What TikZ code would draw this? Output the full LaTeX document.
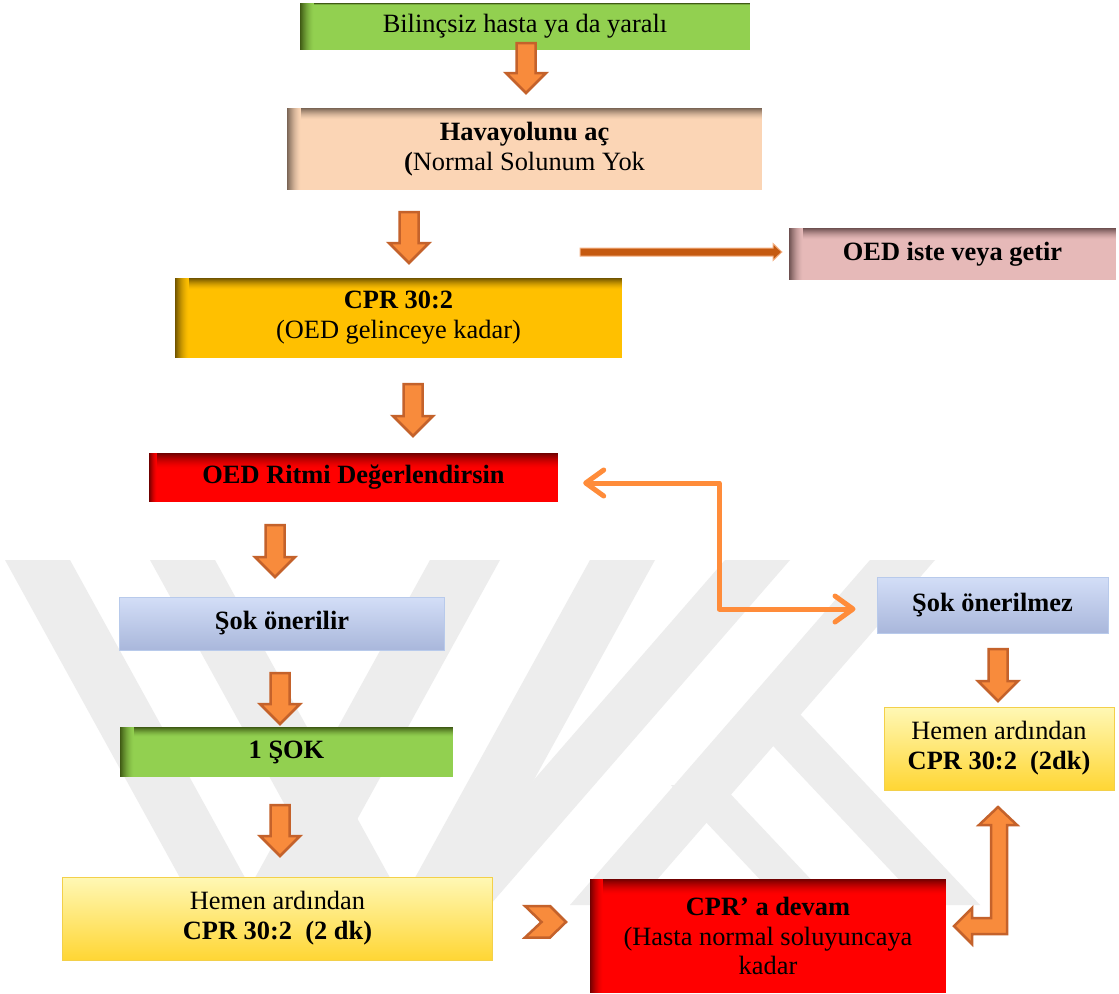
\documentclass[tikz,border=0pt]{standalone}
\usepackage{fontspec}
\setmainfont{Liberation Serif}
\usetikzlibrary{arrows.meta,calc}
\definecolor{grn}{HTML}{92D050}
\definecolor{grnD}{HTML}{3F5A14}
\definecolor{peach}{HTML}{FBD5B5}
\definecolor{peachD}{HTML}{7A6555}
\definecolor{pink}{HTML}{E6B9B8}
\definecolor{pinkD}{HTML}{6E5050}
\definecolor{gold}{HTML}{FFC000}
\definecolor{goldD}{HTML}{705400}
\definecolor{rd}{HTML}{FF0000}
\definecolor{rdD}{HTML}{700000}
\definecolor{blueT}{HTML}{D3DEF7}
\definecolor{blueM}{HTML}{A4BCEC}
\definecolor{blueB}{HTML}{A9B7DB}
\definecolor{blueL}{HTML}{B8CAEB}
\definecolor{yelT}{HTML}{FFF8B5}
\definecolor{yelM}{HTML}{FFF06E}
\definecolor{yelB}{HTML}{FFD634}
\definecolor{yelL}{HTML}{F3D04A}
\definecolor{orF}{HTML}{F88B3C}
\definecolor{orD}{HTML}{C4622B}
\definecolor{lineor}{HTML}{FF8C3A}
\definecolor{thinF}{HTML}{C55A11}
\definecolor{thinL}{HTML}{F4B183}
\definecolor{wm}{HTML}{EDEDED}
\tikzset{
  box/.style={draw=none, inner sep=0pt, align=center,
    font=\fontsize{26.5}{30}\selectfont},
  inset/.style n args={4}{fill=#2, path picture={
    \foreach \i in {0,...,#3}{
      \pgfmathtruncatemacro\p{100*(1-\i/(#3+1))^1.6}
      \fill[#1!\p!#2] ([yshift={-\i*1bp}]path picture bounding box.north west)
        rectangle ([yshift={-(\i+1.3)*1bp}]path picture bounding box.north east);}
    \foreach \i in {0,...,#4}{
      \pgfmathtruncatemacro\p{100*(1-\i/(#4+1))^1.6}
      \fill[#1!\p!#2] ([xshift={\i*1bp}]path picture bounding box.north west)
        rectangle ([xshift={(\i+1.3)*1bp}]path picture bounding box.south west);}
  }},
  bluebox/.style={top color=blueT, middle color=blueM, bottom color=blueB,
    draw=blueL, line width=1bp},
  yelbox/.style={top color=yelT, middle color=yelM, bottom color=yelB,
    draw=yelL, line width=1bp},
  blkarrow/.style={fill=orF, draw=orD, line width=2.5bp, line join=miter},
  conn/.style={draw=lineor, line width=5bp, line cap=round, line join=round,
    {Straight Barb[length=18bp,width=26bp,round]}-{Straight Barb[length=18bp,width=26bp,round]}},
}
\newcommand\blkdown[3]{%
  \filldraw[blkarrow] (#1-9.5,#2) -- (#1+9.5,#2) -- (#1+9.5,#3-20)
    -- (#1+20,#3-20) -- (#1,#3) -- (#1-20,#3-20) -- (#1-9.5,#3-20) -- cycle;}
\begin{document}
\begin{tikzpicture}[x=1bp,y=-1bp]
\useasboundingbox (0,0) rectangle (1119,994);
\fill[white] (0,0) rectangle (1119,994);
% watermark
\begin{scope}
  \clip (0,560) rectangle (1000,905);
  \foreach \a/\b in {5/70,150/215}{
    \fill[wm] (\a,560) -- (\b,560) -- (\b+190,905) -- (\a+190,905) -- cycle;}
  \foreach \a/\b in {430/500,590/655}{
    \fill[wm] (\a,560) -- (\b,560) -- (\b-190,905) -- (\a-190,905) -- cycle;}
  \foreach \a/\b in {725/790,870/935}{
    \fill[wm] (\a,560) -- (\b,560) -- (\b-300,905) -- (\a-300,905) -- cycle;}
  \fill[wm] (743,714) -- (800,714) -- (980,905) -- (923,905) -- cycle;
  \fill[wm] (671,785) -- (722,785) -- (835,905) -- (784,905) -- cycle;
\end{scope}
% boxes
\node[box, inset={grnD}{grn}{1}{13}, minimum width=450bp, minimum height=47bp]
  (b1) at (525,26.5) {Bilinçsiz hasta ya da yaralı};
\node[box, inset={peachD}{peach}{11}{13}, minimum width=475bp, minimum height=82bp]
  (b2) at (524.5,149) {\textbf{Havayolunu aç}\\\textbf{(}Normal Solunum Yok};
\node[box, inset={pinkD}{pink}{11}{13}, minimum width=327bp, minimum height=52bp]
  (b3) at (952.5,254) {\textbf{OED iste veya getir}};
\node[box, inset={goldD}{gold}{11}{13}, minimum width=447bp, minimum height=80bp]
  (b4) at (398.5,318) {\textbf{CPR 30:2}\\(OED gelinceye kadar)};
\node[box, inset={rdD}{rd}{15}{7}, minimum width=409bp, minimum height=49bp]
  (b5) at (353.5,477.5) {\textbf{OED Ritmi Değerlendirsin}};
\node[box, bluebox, minimum width=324bp, minimum height=53bp]
  (b6) at (282,623.5) {\textbf{Şok önerilir}};
\node[box, inset={grnD}{grn}{9}{13}, minimum width=333bp, minimum height=50bp]
  (b7) at (286.5,752) {\textbf{1 ŞOK}};
\node[box, bluebox, minimum width=231bp, minimum height=56bp]
  (b8) at (992.5,605) {\textbf{Şok önerilmez}};
\node[box, yelbox, minimum width=230bp, minimum height=83bp]
  (b9) at (999,748.5) {Hemen ardından\\\textbf{CPR 30:2~~(2dk)}};
\node[box, yelbox, minimum width=429bp, minimum height=83bp]
  (b10) at (277.5,918.5) {Hemen ardından\\\textbf{CPR 30:2~~(2 dk)}};
\node[box, inset={rdD}{rd}{15}{12}, minimum width=356bp, minimum height=114bp]
  (b11) at (768,936) {\textbf{CPR’ a devam}\\(Hasta normal soluyuncaya\\kadar};
% block arrows
\blkdown{526}{43}{93}
\blkdown{409}{212}{263}
\blkdown{413}{384}{436}
\blkdown{275}{525}{577}
\blkdown{280}{673}{724}
\blkdown{280}{805}{856}
\blkdown{998}{649}{701}
% thin arrow to OED iste
\filldraw[fill=thinF, draw=thinL, line width=1bp]
  (580,248) -- (773,248) -- (773,243.5) -- ($(b3.west)+(-7,-2)$)
  -- (773,260.5) -- (773,256) -- (580,256) -- cycle;
% elbow double arrow
\draw[conn] ($(b5.east)+(25,5.5)$) -- ++(136,0) |- ($(b8.west)+(-21,4)$);
% chevron
\filldraw[blkarrow] (525,906) -- (550,906) -- (566,922) -- (550,937.5)
  -- (525,937.5) -- (541.5,922) -- cycle;
% bent double block arrow
\filldraw[blkarrow] (998,807) -- (1017,825) -- (1007,825) -- (1007,934)
  -- (972,934) -- (972,944) -- (954,926) -- (972,908) -- (972,918)
  -- (991,918) -- (991,825) -- (979,825) -- cycle;
\end{tikzpicture}
\end{document}
